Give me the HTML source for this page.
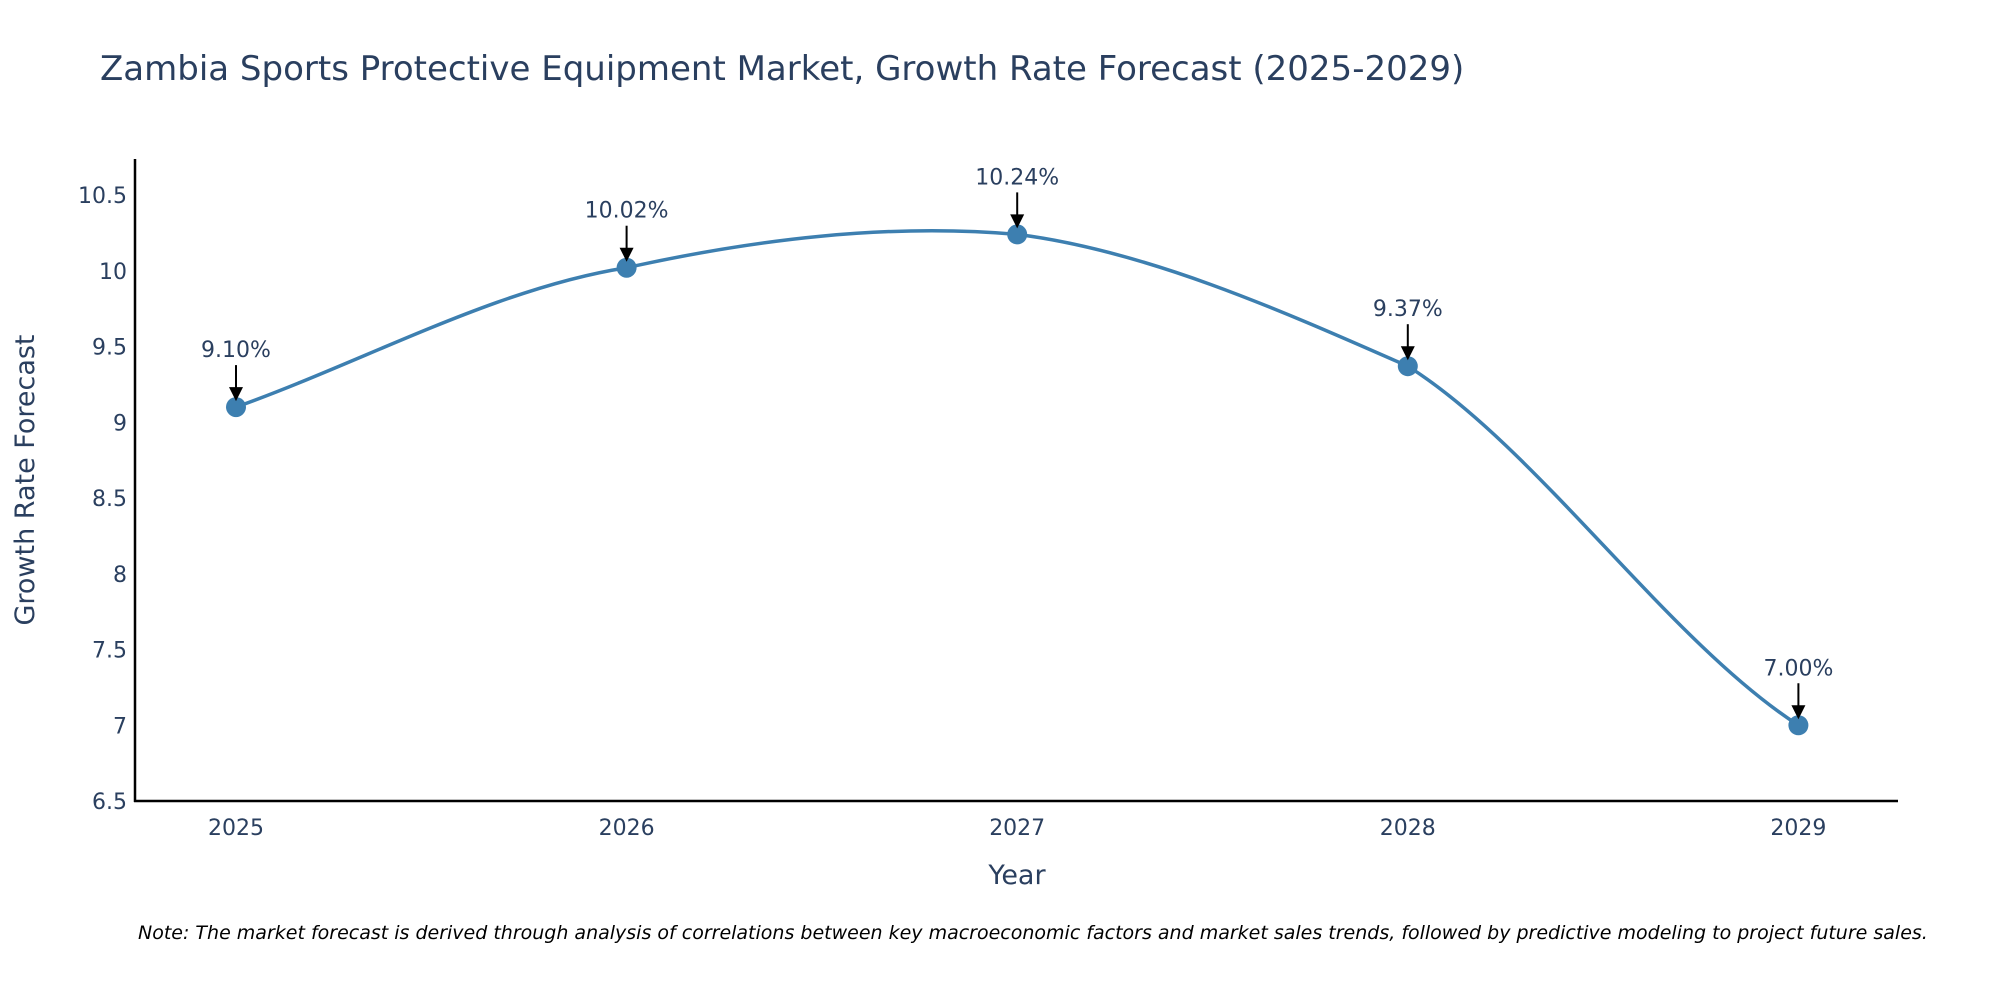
<!DOCTYPE html>
<html><head><meta charset="utf-8">
<style>
body{margin:0;background:#fff;overflow:hidden;}
svg{display:block;font-family:"DejaVu Sans","Liberation Sans",sans-serif;}
</style></head>
<body>
<svg id="chart" width="2000" height="1000" viewBox="0 0 2000 1000" xmlns="http://www.w3.org/2000/svg">
<text x="100" y="80" font-size="34" fill="#2a3f5f">Zambia Sports Protective Equipment Market, Growth Rate Forecast (2025-2029)</text>
<g id="yticks"></g>
<g id="xticks"></g>
<path id="line" fill="none" stroke="#3d7fb0" stroke-width="3.5"/>
<g id="points"></g>
<g id="annots"></g>
<line x1="135" y1="159" x2="135" y2="802" stroke="#000" stroke-width="2.5"/>
<line x1="134" y1="801" x2="1898" y2="801" stroke="#000" stroke-width="2.5"/>
<text x="1017" y="884" font-size="27" fill="#2a3f5f" text-anchor="middle">Year</text>
<text transform="translate(34,480) rotate(-90)" font-size="27" fill="#2a3f5f" text-anchor="middle">Growth Rate Forecast</text>
<text x="138" y="939" font-size="19" font-style="italic" fill="#000">Note: The market forecast is derived through analysis of correlations between key macroeconomic factors and market sales trends, followed by predictive modeling to project future sales.</text>
</svg>
<script>
const years = ["2025","2026","2027","2028","2029"];
const values = [9.10, 10.02, 10.24, 9.37, 7.00];
const labels = ["9.10%","10.02%","10.24%","9.37%","7.00%"];
const yTicks = [6.5,7,7.5,8,8.5,9,9.5,10,10.5];

const NS="http://www.w3.org/2000/svg";
const X0=236, XSTEP=390.6;
const xs=i=>X0+i*XSTEP;
const Y0=801, YMIN=6.5, YPER=(801-195)/4;
const ys=v=>Y0-(v-YMIN)*YPER;
function mk(tag,attrs,parent){const e=document.createElementNS(NS,tag);for(const k in attrs)e.setAttribute(k,attrs[k]);parent.appendChild(e);return e;}

const yg=document.getElementById('yticks');
yTicks.forEach(t=>{
  const e=mk('text',{x:127,y:ys(t)+8,'font-size':22,fill:'#2a3f5f','text-anchor':'end'},yg);
  
  
  e.textContent=String(t);
});
const xg=document.getElementById('xticks');
years.forEach((y,i)=>{
  const e=mk('text',{x:xs(i),y:835,'font-size':22,fill:'#2a3f5f','text-anchor':'middle'},xg);
  
  
  e.textContent=y;
});

const pts=values.map((v,i)=>[xs(i),ys(v)]);
let d=`M${pts[0][0]},${pts[0][1]}`;
const s=0.33;
for(let i=0;i<pts.length-1;i++){
  const p0=pts[i-1]||pts[i],p1=pts[i],p2=pts[i+1],p3=pts[i+2]||pts[i+1];
  const f1=(i===0?1:2), f2=(i===pts.length-2?1:2);
  const c1=[p1[0]+(p2[0]-p0[0])*s/f1, p1[1]+(p2[1]-p0[1])*s/f1];
  const c2=[p2[0]-(p3[0]-p1[0])*s/f2, p2[1]-(p3[1]-p1[1])*s/f2*0.7];
  d+=` C${c1[0]},${c1[1]} ${c2[0]},${c2[1]} ${p2[0]},${p2[1]}`;
}
document.getElementById('line').setAttribute('d',d);

const pg=document.getElementById('points'), ag=document.getElementById('annots');
pts.forEach((p,i)=>{
  const c=mk('circle',{cx:p[0],cy:p[1],r:10,fill:'#3d7fb0'},pg);
  
  
  const l=mk('line',{x1:p[0],y1:p[1]-42,x2:p[0],y2:p[1]-18,stroke:'#000','stroke-width':2},ag);
  
  
  const h=mk('polygon',{points:`${p[0]-7},${p[1]-20} ${p[0]+7},${p[1]-20} ${p[0]},${p[1]-6}`,fill:'#000'},ag);
  
  
  const t=mk('text',{x:p[0],y:p[1]-50,'font-size':22,fill:'#2a3f5f','text-anchor':'middle'},ag);
  
  
  t.textContent=labels[i];
});
</script>
</body></html>
